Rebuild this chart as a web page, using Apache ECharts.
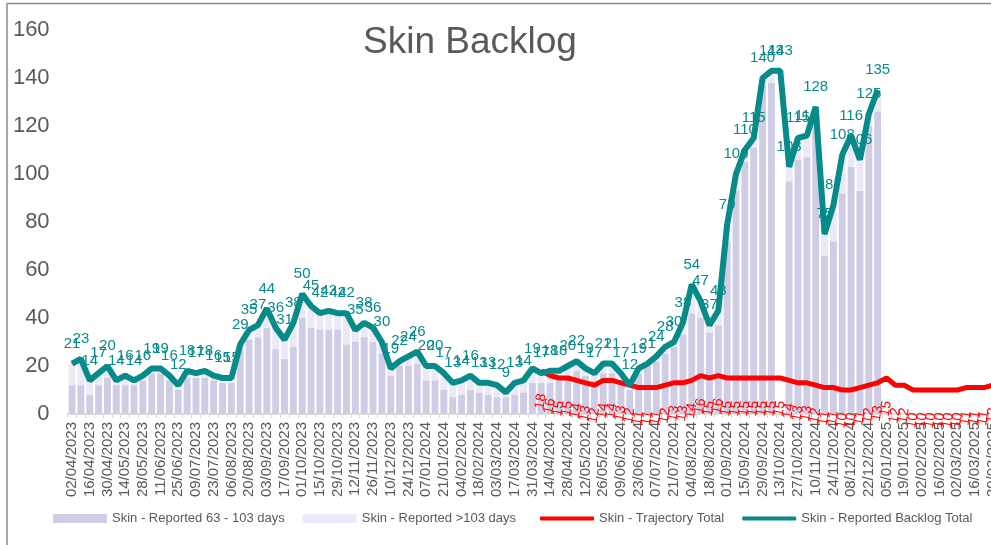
<!DOCTYPE html>
<html>
<head>
<meta charset="utf-8">
<script src="https://cdn.jsdelivr.net/npm/echarts@6/dist/echarts.min.js"></script>
<style>
  html, body { margin: 0; padding: 0; background: #fff; }
  #main { width: 991px; height: 545px; }
</style>
</head>
<body>
<div id="main"></div>
<script>
// weekly snapshots
const weeks = [
  '02/04/2023', '09/04/2023', '16/04/2023', '23/04/2023', '30/04/2023', '07/05/2023', '14/05/2023', '21/05/2023',
  '28/05/2023', '04/06/2023', '11/06/2023', '18/06/2023', '25/06/2023', '02/07/2023', '09/07/2023', '16/07/2023',
  '23/07/2023', '30/07/2023', '06/08/2023', '13/08/2023', '20/08/2023', '27/08/2023', '03/09/2023', '10/09/2023',
  '17/09/2023', '24/09/2023', '01/10/2023', '08/10/2023', '15/10/2023', '22/10/2023', '29/10/2023', '05/11/2023',
  '12/11/2023', '19/11/2023', '26/11/2023', '03/12/2023', '10/12/2023', '17/12/2023', '24/12/2023', '31/12/2023',
  '07/01/2024', '14/01/2024', '21/01/2024', '28/01/2024', '04/02/2024', '11/02/2024', '18/02/2024', '25/02/2024',
  '03/03/2024', '10/03/2024', '17/03/2024', '24/03/2024', '31/03/2024', '07/04/2024', '14/04/2024', '21/04/2024',
  '28/04/2024', '05/05/2024', '12/05/2024', '19/05/2024', '26/05/2024', '02/06/2024', '09/06/2024', '16/06/2024',
  '23/06/2024', '30/06/2024', '07/07/2024', '14/07/2024', '21/07/2024', '28/07/2024', '04/08/2024', '11/08/2024',
  '18/08/2024', '25/08/2024', '01/09/2024', '08/09/2024', '15/09/2024', '22/09/2024', '29/09/2024', '06/10/2024',
  '13/10/2024', '20/10/2024', '27/10/2024', '03/11/2024', '10/11/2024', '17/11/2024', '24/11/2024', '01/12/2024',
  '08/12/2024', '15/12/2024', '22/12/2024', '29/12/2024', '05/01/2025', '12/01/2025', '19/01/2025', '26/01/2025',
  '02/02/2025', '09/02/2025', '16/02/2025', '23/02/2025', '02/03/2025', '09/03/2025', '16/03/2025', '23/03/2025',
  '30/03/2025', '06/04/2025'
]

const reported63to103 = [
  12, 12, 8, 12, 15, 12, 12, 12, 14, 17,
  17, 14, 10, 15, 15, 15, 14, 13, 13, 27,
  31, 32, 36, 27, 23, 28, 40, 36, 35, 35,
  35, 29, 30, 32, 30, 25, 16, 20, 20, 21,
  14, 14, 10, 7, 8, 10, 9, 8, 7, 7,
  8, 9, 13, 13, 13, 14, 16, 18, 16, 14,
  17, 17, 13, 10, 17, 20, 22, 25, 28, 33,
  42, 40, 34, 37, 72, 93, 105, 111, 137, 138,
  null, 97, 106, 107, 126, 66, 72, 92, 103, 93,
  120, 126
]

const reportedOver103 = [
  9, 11, 6, 5, 5, 2, 4, 2, 2, 2,
  2, 2, 2, 3, 2, 3, 2, 2, 2, 2,
  4, 5, 8, 9, 8, 10, 10, 9, 7, 8,
  7, 13, 5, 6, 6, 5, 3, 2, 4, 5,
  6, 6, 7, 6, 6, 6, 4, 5, 5, 2,
  5, 5, 6, 4, 5, 4, 4, 4, 3, 3,
  4, 4, 4, 2, 2, 1, 2, 3, 2, 5,
  12, 7, 3, 6, 7, 7, 5, 4, 3, 5,
  null, 6, 9, 9, 2, 9, 15, 16, 13, 13,
  5, 9
]

const backlogTotal = [
  21, 23, 14, 17, 20, 14, 16, 14, 16, 19,
  19, 16, 12, 18, 17, 18, 16, 15, 15, 29,
  35, 37, 44, 36, 31, 38, 50, 45, 42, 43,
  42, 42, 35, 38, 36, 30, 19, 22, 24, 26,
  20, 20, 17, 13, 14, 16, 13, 13, 12, 9,
  13, 14, 19, 17, 18, 18, 20, 22, 19, 17,
  21, 21, 17, 12, 19, 21, 24, 28, 30, 38,
  54, 47, 37, 43, 79, 100, 110, 115, 140, 143,
  143, 103, 115, 116, 128, 75, 87, 108, 116, 106,
  125, 135
]

// trajectory starts at 07/04/2024
const trajectoryStart = 53
const trajectoryTotal = [
  18, 16, 15, 15, 14, 13, 12, 14, 14, 13,
  12, 11, 11, 11, 12, 13, 13, 14, 16, 15,
  16, 15, 15, 15, 15, 15, 15, 15, 14, 13,
  13, 12, 11, 11, 10, 10, 11, 12, 13, 15,
  12, 12, 10, 10, 10, 10, 10, 10, 11, 11,
  11, 12, 12
]

const grey = '#595959'
const teal = '#078a8a'
const red = '#ff0000'

let myChart = echarts.init(document.getElementById('main'))
let option = {
  animation: false,
  textStyle: { fontFamily: 'Liberation Sans' },
  title: {
    text: 'Skin Backlog',
    left: 465,
    top: 19,
    textAlign: 'center',
    textStyle: { fontSize: 37, fontWeight: 'normal', color: grey, fontFamily: 'Liberation Sans' }
  },
  graphic: [{
    type: 'rect',
    silent: true,
    shape: { x: 7, y: 3.5, width: 1200, height: 1000 },
    style: { fill: 'none', stroke: '#8c8c8c', lineWidth: 1.5 }
  }],
  legend: [{
    left: 48,
    top: 507,
    itemWidth: 54,
    itemHeight: 9,
    itemGap: 18,
    icon: 'rect',
    textStyle: { color: grey, fontSize: 13 },
    data: ['Skin - Reported 63 - 103 days', 'Skin - Reported >103 days']
  }, {
    left: 535,
    top: 507,
    itemWidth: 54,
    itemHeight: 4,
    itemGap: 18,
    icon: 'roundRect',
    textStyle: { color: grey, fontSize: 13 },
    data: ['Skin - Trajectory Total', 'Skin - Reported Backlog Total']
  }],
  grid: { left: 67.6, top: 30, width: weeks.length * 8.853, height: 384, outerBoundsMode: 'none' },
  xAxis: {
    type: 'category',
    data: weeks,
    axisLine: { lineStyle: { color: '#d9d9d9', width: 1.5 } },
    axisTick: { show: true, interval: 0, length: 4, lineStyle: { color: '#d9d9d9' } },
    axisLabel: { interval: 1, rotate: 90, color: grey, fontSize: 15, margin: 8 }
  },
  yAxis: {
    type: 'value',
    min: 0,
    max: 160,
    interval: 20,
    splitLine: { show: false },
    axisLine: { show: false },
    axisTick: { show: false },
    axisLabel: { color: grey, fontSize: 22, margin: 18 }
  },
  series: [{
    name: 'Skin - Reported 63 - 103 days',
    type: 'bar',
    stack: 'skin',
    barCategoryGap: '22%',
    itemStyle: { color: '#cfcce5' },
    data: reported63to103
  }, {
    name: 'Skin - Reported >103 days',
    type: 'bar',
    stack: 'skin',
    itemStyle: { color: '#ebe9f5' },
    data: reportedOver103
  }, {
    name: 'Skin - Trajectory Total',
    type: 'line',
    symbol: 'circle',
    symbolSize: 1,
    itemStyle: { color: red },
    lineStyle: { color: red, width: 5 },
    label: {
      show: true,
      position: [0, 31],
      align: 'center',
      verticalAlign: 'middle',
      rotate: 80,
      color: red,
      fontSize: 14
    },
    data: new Array(trajectoryStart).fill(null).concat(trajectoryTotal)
  }, {
    name: 'Skin - Reported Backlog Total',
    type: 'line',
    symbol: 'circle',
    symbolSize: 1,
    itemStyle: { color: teal },
    lineStyle: { color: teal, width: 6 },
    label: { show: true, position: 'top', distance: 12, color: teal, fontSize: 15 },
    data: backlogTotal
  }]
}
myChart.setOption(option)
</script>
</body>
</html>
